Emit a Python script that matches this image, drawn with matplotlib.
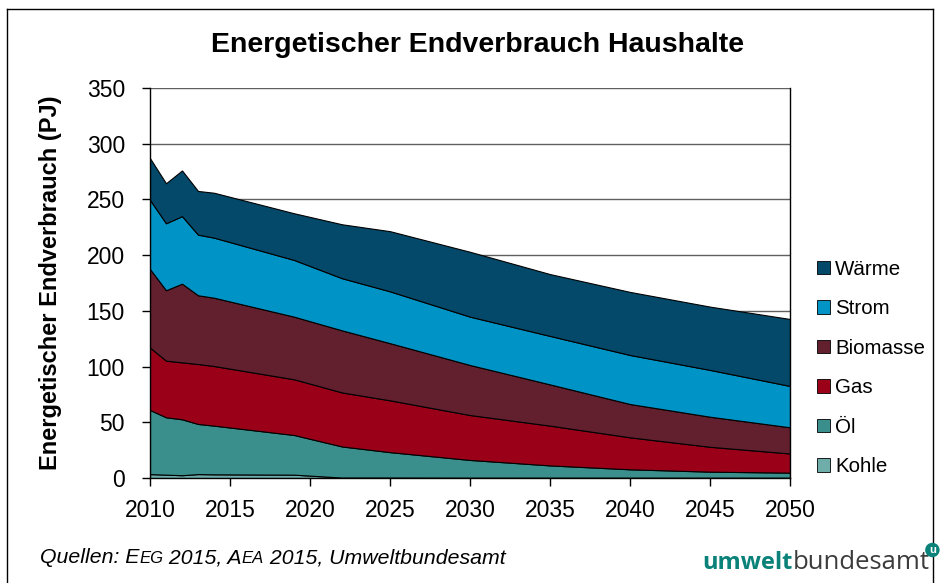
import numpy as np
import matplotlib
matplotlib.use('Agg')
import matplotlib.pyplot as plt
from matplotlib.patches import Patch
from matplotlib.lines import Line2D

plt.rcParams['font.family'] = ['Liberation Sans', 'DejaVu Sans']

# Energetischer Endverbrauch Haushalte (PJ)
years   = [2010, 2011, 2012, 2013, 2014, 2019, 2022, 2025, 2030, 2035, 2040, 2045, 2050]
kohle   = [3.5, 3.0, 2.5, 3.5, 3.3, 3.0, 0.4, 0.4, 0.3, 0.3, 0.3, 0.3, 0.3]
oel     = [57.5, 51.5, 50.2, 45.0, 43.7, 35.6, 27.9, 22.8, 15.9, 11.0, 7.5, 5.4, 4.5]
gas     = [56.0, 50.8, 51.1, 53.8, 53.5, 50.0, 48.5, 46.5, 40.3, 35.7, 28.7, 22.3, 17.2]
biomasse = [70.5, 63.2, 70.6, 61.7, 61.3, 56.2, 55.7, 51.3, 44.9, 37.0, 29.9, 27.0, 23.5]
strom   = [62.0, 60.1, 60.6, 54.4, 53.9, 50.9, 46.8, 46.5, 43.4, 43.5, 44.0, 42.0, 37.1]
waerme  = [37.5, 35.9, 41.0, 39.2, 40.3, 41.9, 48.4, 54.0, 58.2, 55.5, 56.6, 56.8, 60.1]

labels = ['Kohle', 'Öl', 'Gas', 'Biomasse', 'Strom', 'Wärme']
colors = ['#6fadaa', '#3a8e8b', '#9b0019', '#62202f', '#0093c6', '#04496a']

x_ticks = [2010, 2015, 2020, 2025, 2030, 2035, 2040, 2045, 2050]
y_ticks = [0, 50, 100, 150, 200, 250, 300, 350]

fig = plt.figure(figsize=(9.41, 5.83), dpi=100, facecolor='white')
ax = fig.add_axes([150 / 941, 1 - 478 / 583, 640 / 941, 390 / 583])

series = [kohle, oel, gas, biomasse, strom, waerme]
ax.stackplot(years, *series, colors=colors, edgecolor='black', linewidth=0.8, zorder=2)

ax.set_xlim(2010, 2050)
ax.set_ylim(0, 350)
ax.set_xticks(x_ticks)
ax.set_yticks(y_ticks)
ax.yaxis.grid(True, color='#606060', linewidth=1.0, zorder=0)
ax.set_axisbelow(True)
ax.tick_params(axis='both', labelsize=16.5, direction='out', length=6, width=1, colors='black')
ax.tick_params(axis='x', pad=9)
ax.tick_params(axis='y', pad=12)

for s in ['left', 'bottom', 'right']:
    ax.spines[s].set_color('black')
    ax.spines[s].set_linewidth(1.0)
ax.spines['top'].set_visible(False)
ax.spines['right'].set_zorder(3)

ax.set_ylabel('Energetischer Endverbrauch (PJ)', fontsize=17, fontweight='bold')
ax.yaxis.set_label_coords((62 - 150) / 640, 0.5)

fig.text(478 / 941, 1 - 45 / 583, 'Energetischer Endverbrauch Haushalte',
         fontsize=20.5, fontweight='bold', ha='center', va='center')

# legend, Wärme on top
handles = [Patch(facecolor=c, edgecolor='black', linewidth=0.6, label=l)
           for l, c in zip(labels[::-1], colors[::-1])]
fig.legend(handles=handles, loc='center left', bbox_to_anchor=(817 / 941, 1 - 368 / 583),
           frameon=False, fontsize=14.8, handlelength=0.64, handleheight=0.64,
           handletextpad=0.25, labelspacing=1.0, borderpad=0, borderaxespad=0)

# footer: sources with small caps
fig.canvas.draw()
renderer = fig.canvas.get_renderer()
parts = [('Quellen: E', 15.3), ('EG', 12), (' 2015, A', 15.3), ('EA', 12), (' 2015, Umweltbundesamt', 15.3)]
xpos = 40
for txt, fs in parts:
    t = fig.text(xpos / 941, 1 - 563 / 583, txt, fontsize=fs, style='italic',
                 ha='left', va='baseline')
    bb = t.get_window_extent(renderer)
    xpos += bb.width

# logo
t1 = fig.text(702 / 941, 1 - 569 / 583, 'umwelt', fontsize=17, fontweight='bold',
              color='#0a8279', family=['Open Sans', 'DejaVu Sans'], ha='left', va='baseline')
bb = t1.get_window_extent(renderer)
t2 = fig.text((702 + bb.width) / 941, 1 - 569 / 583, 'bundesamt', fontsize=18.5,
              color='#3c3c3c', family=['Open Sans', 'DejaVu Sans'], ha='left', va='baseline')
bb2 = t2.get_window_extent(renderer)
fig.text((702 + bb.width + bb2.width + 3) / 941, 1 - 550 / 583, 'u', fontsize=8, fontweight='bold',
         color='white', ha='center', va='center',
         bbox=dict(boxstyle='circle,pad=0.2', facecolor='#0a8279', edgecolor='none'))

# outer frame
for xs, ys in [([7, 7], [0, 9]), ([7, 933], [9, 9]), ([933, 933], [9, 0])]:
    fig.add_artist(Line2D([x / 941 for x in xs], [1 - 9 / 583 if y == 9 else -0.01 for y in ys],
                          transform=fig.transFigure, color='black', linewidth=1.0))

fig.savefig('out.png', dpi=100, facecolor='white')
